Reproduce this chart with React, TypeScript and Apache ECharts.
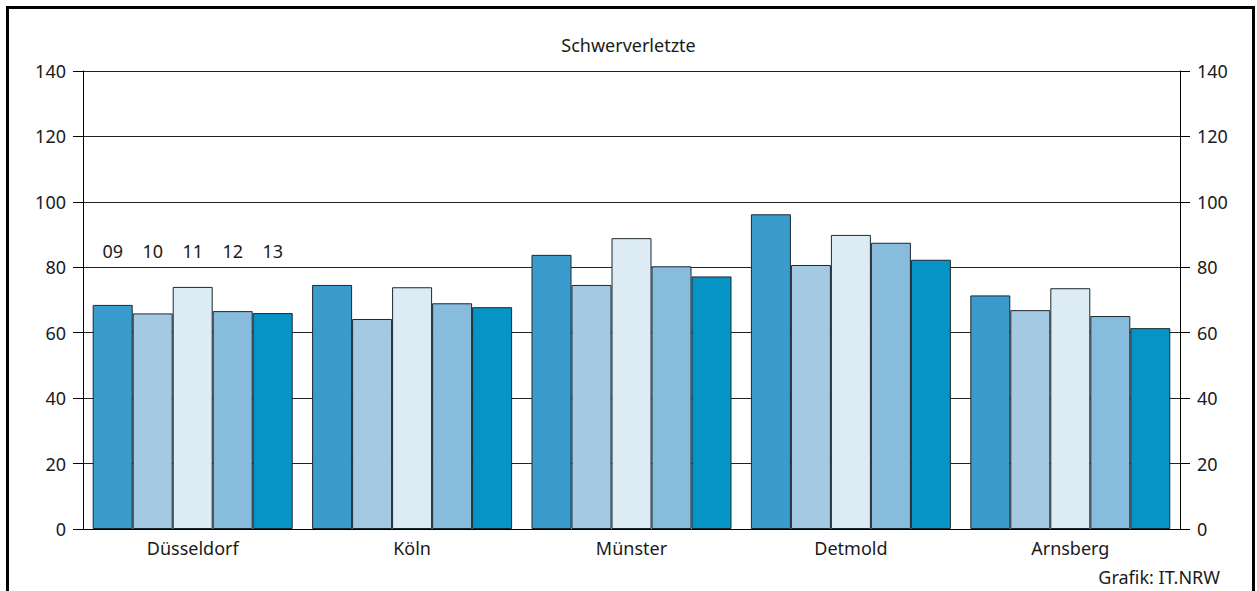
import React, { useEffect, useRef } from "react";
import * as echarts from "echarts";

const categories = ["Düsseldorf", "Köln", "Münster", "Detmold", "Arnsberg"];
const years = ["09", "10", "11", "12", "13"];
const values2009 = [68.5, 74.6, 83.8, 96.2, 71.4];
const values2010 = [65.9, 64.2, 74.6, 80.7, 66.9];
const values2011 = [74.0, 73.9, 88.9, 89.9, 73.6];
const values2012 = [66.6, 69.0, 80.3, 87.5, 65.1];
const values2013 = [66.0, 67.8, 77.2, 82.3, 61.4];
const seriesValues = [values2009, values2010, values2011, values2012, values2013];
const colors = ["#3a9ccc", "#a4cae3", "#ddebf5", "#88bcdc", "#0693c6"];

const FONT = "Noto Sans";
const TEXT = "#1a1a1a";
const FS = 18;

export default function App() {
  const ref = useRef<HTMLDivElement>(null);
  useEffect(() => {
    if (!ref.current) return;
    const chart = echarts.init(ref.current, null, { renderer: "svg" });
    const yAxisBase = {
      type: "value",
      min: 0,
      max: 140,
      interval: 20,
      axisLine: { show: true, lineStyle: { color: "#000", width: 1 } },
      axisTick: { show: true, length: 10, lineStyle: { color: "#000", width: 1 } },
      axisLabel: { color: TEXT, fontSize: FS, fontFamily: FONT, margin: 17 },
    };
    chart.setOption({
      animation: false,
      backgroundColor: "#fff",
      title: {
        text: "Schwerverletzte",
        left: "center",
        top: 31,
        textStyle: { color: TEXT, fontSize: FS, fontWeight: "normal", fontFamily: FONT },
      },
      grid: { left: 83, right: 77, top: 71, bottom: 62, containLabel: false },
      xAxis: {
        type: "category",
        data: categories,
        axisLine: { show: true, lineStyle: { color: "#000", width: 1 } },
        axisTick: { show: false },
        axisLabel: { color: TEXT, fontSize: FS, fontFamily: FONT, margin: 10 },
      },
      yAxis: [
        {
          ...yAxisBase,
          position: "left",
          splitLine: { show: true, lineStyle: { color: "#222", width: 1 } },
        },
        {
          ...yAxisBase,
          position: "right",
          splitLine: { show: false },
        },
      ],
      series: seriesValues.map((vals, i) => ({
        type: "bar",
        name: years[i],
        data: vals,
        barWidth: 40,
        barGap: "0%",
        itemStyle: { color: colors[i], borderColor: "#1c2830", borderWidth: 1 },
      })),
      graphic: [],
    });
    const center = chart.convertToPixel({ xAxisIndex: 0 }, 0) as number;
    const n = years.length;
    const texts = years.map((y, i) => ({
      type: "text",
      x: center + (i - (n - 1) / 2) * 40,
      y: 251,
      style: {
        text: y,
        fill: TEXT,
        font: `${FS}px "${FONT}"`,
        align: "center",
        verticalAlign: "middle",
      },
    }));
    chart.setOption({
      graphic: [
        {
          type: "rect",
          shape: { x: 7.5, y: 7.5, width: 1246, height: 700 },
          style: { fill: "none", stroke: "#000", lineWidth: 3 },
          silent: true,
        },
        ...texts,
        {
          type: "text",
          right: 37,
          top: 568,
          style: { text: "Grafik: IT.NRW", fill: TEXT, font: `${FS}px "${FONT}"` },
        },
      ],
    });
    return () => chart.dispose();
  }, []);
  return (
    <div
      ref={ref}
      style={{ position: "absolute", left: 0, top: 0, width: 1257, height: 591 }}
    />
  );
}
